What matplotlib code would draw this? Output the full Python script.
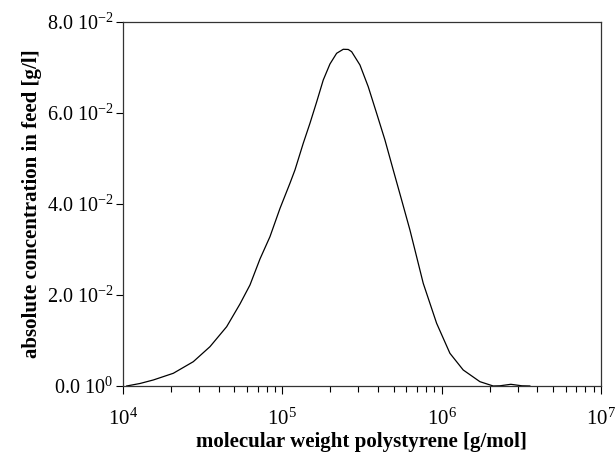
import numpy as np
import matplotlib
matplotlib.use("Agg")
import matplotlib.pyplot as plt
from matplotlib.ticker import FixedLocator, FixedFormatter, LogLocator, NullFormatter

plt.rcParams['font.family'] = ['Liberation Serif', 'DejaVu Serif']
plt.rcParams['mathtext.fontset'] = 'custom'
plt.rcParams['mathtext.rm'] = 'Liberation Serif'
plt.rcParams['mathtext.it'] = 'Liberation Serif:italic'
plt.rcParams['mathtext.bf'] = 'Liberation Serif:bold'

# data
molecular_weight = [10550, 12790, 15500, 20690, 27630, 35160, 44750, 54240, 62690,
                    72430, 83680, 96690, 111700, 120100, 135400, 149200, 164300,
                    180800, 199200, 219400, 241400, 259500, 272500, 307300, 346400,
                    391100, 441000, 497300, 561300, 632900, 680300, 767100, 930900,
                    1128000, 1367000, 1740000, 2109000, 2323000, 2723000, 3192000,
                    3583000]
concentration = [0.0, 0.00055, 0.00132, 0.00279, 0.00534, 0.00864, 0.01303, 0.01802,
                 0.02220, 0.02791, 0.03281, 0.03901, 0.04455, 0.04747, 0.05334,
                 0.05774, 0.06242, 0.06725, 0.07077, 0.07312, 0.07400, 0.07396,
                 0.07347, 0.07055, 0.06578, 0.05993, 0.05407, 0.04747, 0.04088,
                 0.03429, 0.02990, 0.02257, 0.01378, 0.00719, 0.00352, 0.00095,
                 0.0, 0.00004, 0.00037, 0.00004, 0.0]

y_ticks = [0.0, 0.02, 0.04, 0.06, 0.08]
y_tick_labels = ['0.0 10$^{0}$', '2.0 10$^{-2}$', '4.0 10$^{-2}$',
                 '6.0 10$^{-2}$', '8.0 10$^{-2}$']
x_ticks = [1e4, 1e5, 1e6, 1e7]
x_tick_labels = ['10$^{4}$', '10$^{5}$', '10$^{6}$', '10$^{7}$']

fig = plt.figure(figsize=(6.15, 4.57), dpi=100)
ax = fig.add_axes([0.2, 0.1554, 0.777, 0.7965])

ax.plot(molecular_weight, concentration, color='black', linewidth=0.9)
ax.set_xscale('log')
ax.set_xlim(1e4, 1e7)
ax.set_ylim(0, 0.08)

ax.xaxis.set_major_locator(FixedLocator(x_ticks))
ax.xaxis.set_major_formatter(FixedFormatter(x_tick_labels))
ax.xaxis.set_minor_locator(LogLocator(base=10, subs=np.arange(2, 10)))
ax.xaxis.set_minor_formatter(NullFormatter())
ax.yaxis.set_major_locator(FixedLocator(y_ticks))
ax.yaxis.set_major_formatter(FixedFormatter(y_tick_labels))

ax.tick_params(axis='x', which='major', direction='out', length=6, width=0.8,
               labelsize=15, pad=10, top=False)
ax.tick_params(axis='x', which='minor', direction='out', length=4.5, width=0.8,
               top=False)
ax.tick_params(axis='y', which='major', direction='out', length=5, width=0.8,
               labelsize=14.5, pad=2, right=False)

for s in ax.spines.values():
    s.set_linewidth(0.9)
    s.set_color('#333333')

ax.set_xlabel('molecular weight polystyrene [g/mol]', fontsize=15,
              fontweight='bold', labelpad=2)
ax.set_ylabel('absolute concentration in feed [g/l]', fontsize=15,
              fontweight='bold', labelpad=3)

fig.savefig('out.png', dpi=100)
